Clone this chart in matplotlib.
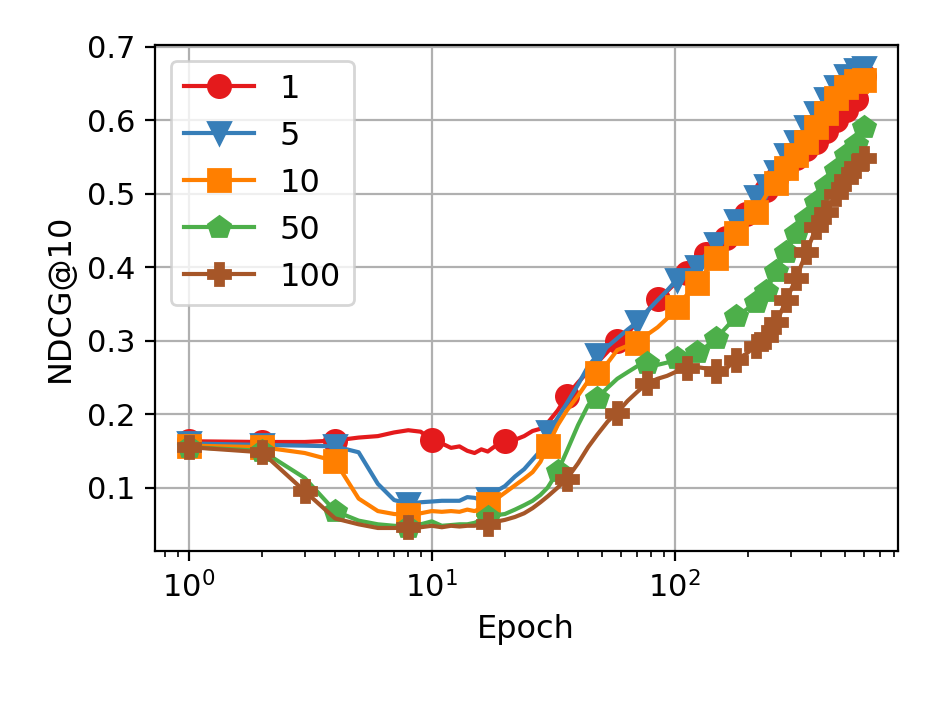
import matplotlib
matplotlib.use('Agg')
import matplotlib.pyplot as plt

epochs = [1, 2, 3, 4, 5, 6, 7, 8, 9, 10, 11, 12, 13, 14, 15, 16, 17, 18,
          20, 22, 24, 26, 28, 30, 33, 36, 40, 44, 48, 53, 58, 64, 70, 77, 85, 93,
          102, 112, 123, 135, 148, 163, 179, 197, 216, 238, 262, 288, 316, 348,
          383, 421, 463, 509, 555, 600]

ndcg_1 = [0.163, 0.162, 0.162, 0.164, 0.168, 0.170, 0.175, 0.178, 0.176, 0.165,
          0.160, 0.154, 0.156, 0.150, 0.147, 0.152, 0.149, 0.155,
          0.163, 0.165, 0.170, 0.177, 0.180, 0.188, 0.205, 0.225, 0.243, 0.258,
          0.270, 0.285, 0.300, 0.310, 0.325, 0.340, 0.357, 0.367,
          0.380, 0.392, 0.405, 0.418, 0.430, 0.440, 0.455, 0.472, 0.490, 0.505,
          0.520, 0.535, 0.548, 0.560, 0.570, 0.585, 0.600, 0.613, 0.628, 0.660]

ndcg_5 = [0.160, 0.158, 0.157, 0.156, 0.148, 0.105, 0.083, 0.078, 0.080, 0.081,
          0.082, 0.082, 0.082, 0.087, 0.086, 0.083, 0.085, 0.093,
          0.102, 0.115, 0.125, 0.138, 0.150, 0.175, 0.195, 0.215, 0.240, 0.265,
          0.280, 0.292, 0.303, 0.315, 0.325, 0.340, 0.355, 0.368,
          0.383, 0.392, 0.400, 0.418, 0.432, 0.448, 0.462, 0.478, 0.495, 0.510,
          0.530, 0.552, 0.570, 0.590, 0.610, 0.628, 0.645, 0.660, 0.668, 0.671]

ndcg_10 = [0.157, 0.155, 0.147, 0.136, 0.085, 0.068, 0.064, 0.063, 0.065, 0.068,
           0.067, 0.068, 0.067, 0.070, 0.068, 0.072, 0.077, 0.082,
           0.093, 0.103, 0.112, 0.121, 0.135, 0.157, 0.185, 0.205, 0.225, 0.245,
           0.256, 0.270, 0.287, 0.293, 0.297, 0.308, 0.318, 0.330,
           0.345, 0.362, 0.378, 0.395, 0.412, 0.428, 0.447, 0.460, 0.475, 0.498,
           0.515, 0.535, 0.552, 0.570, 0.590, 0.610, 0.630, 0.645, 0.653, 0.655]

ndcg_50 = [0.155, 0.150, 0.113, 0.068, 0.055, 0.050, 0.048, 0.047, 0.050, 0.054,
           0.048, 0.049, 0.050, 0.050, 0.052, 0.056, 0.060, 0.062,
           0.064, 0.070, 0.076, 0.082, 0.090, 0.100, 0.122, 0.150, 0.185, 0.212,
           0.222, 0.236, 0.248, 0.257, 0.265, 0.270, 0.267, 0.270,
           0.276, 0.280, 0.284, 0.292, 0.303, 0.318, 0.333, 0.342, 0.352, 0.368,
           0.395, 0.420, 0.446, 0.465, 0.488, 0.510, 0.532, 0.552, 0.568, 0.590]

ndcg_100 = [0.155, 0.148, 0.095, 0.058, 0.050, 0.045, 0.045, 0.046, 0.046, 0.048,
            0.046, 0.048, 0.047, 0.048, 0.048, 0.050, 0.051, 0.053,
            0.056, 0.060, 0.065, 0.072, 0.080, 0.088, 0.100, 0.112, 0.133, 0.155,
            0.172, 0.190, 0.202, 0.218, 0.230, 0.242, 0.248, 0.252,
            0.258, 0.262, 0.264, 0.262, 0.258, 0.262, 0.274, 0.282, 0.293, 0.305,
            0.325, 0.355, 0.385, 0.420, 0.455, 0.475, 0.500, 0.520, 0.537, 0.548]

labels = ['1', '5', '10', '50', '100']
series = [ndcg_1, ndcg_5, ndcg_10, ndcg_50, ndcg_100]

# estilo
colors = ['#e41a1c', '#377eb8', '#ff7f00', '#4daf4a', '#a65628']
markers = ['o', 'v', 's', 'p', 'P']
tail = [238, 262, 288, 316, 348, 383, 421, 463, 509, 555, 600]
mark_epochs = [
    [1, 2, 4, 10, 20, 36, 58, 85, 112, 135, 163, 197] + tail,
    [1, 2, 4, 8, 17, 30, 48, 70, 102, 123, 148, 179, 216] + tail,
    [1, 2, 4, 8, 17, 30, 48, 70, 102, 123, 148, 179, 216] + tail[1:],
    [1, 2, 4, 8, 17, 33, 48, 77, 102, 123, 148, 179, 216] + tail,
    [1, 2, 3, 8, 17, 36, 58, 77, 112, 148, 179, 216] + tail,
]

plt.rcParams['font.size'] = 11
plt.rcParams['axes.labelsize'] = 11.5
plt.rcParams['legend.fontsize'] = 11.5

fig, ax = plt.subplots(figsize=(4.67, 3.505), dpi=200)
fig.subplots_adjust(left=0.166, right=0.961, bottom=0.214, top=0.936)

for vals, lab, c, m, me in zip(series, labels, colors, markers, mark_epochs):
    idx = [epochs.index(e) for e in me]
    ax.plot(epochs, vals, color=c, marker=m, markersize=8, linewidth=1.5,
            markevery=idx, label=lab)

ax.set_xscale('log')
ax.set_xlabel('Epoch')
ax.set_ylabel('NDCG@10')
ax.grid(True)
ax.legend(loc='upper left', handlelength=2.2)

fig.savefig('out.png', dpi=200)
